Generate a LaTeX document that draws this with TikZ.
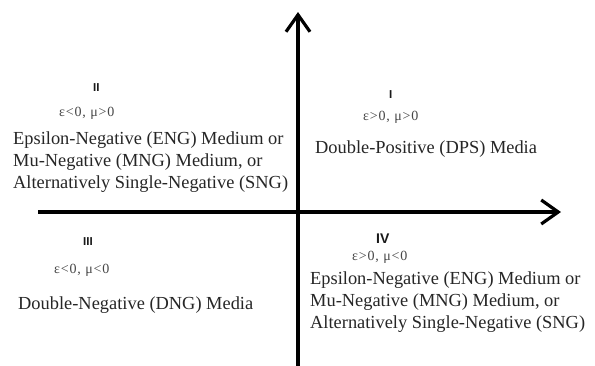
\documentclass[tikz,border=0pt]{standalone}
\usepackage{fontspec}
\setmainfont{Liberation Serif}
\newfontfamily\numfont{Liberation Sans}
\newfontfamily\condfont[LetterSpace=6]{Liberation Serif}
\usetikzlibrary{arrows.meta}
\tikzset{
  axis/.style={line width=3.2pt, -{Straight Barb[length=17pt,width=24pt,line width=3.2pt]}},
  body/.style={anchor=base west, inner sep=0pt, align=left, text=black!85,
    font=\fontsize{18.4}{21.7}\selectfont},
  cond/.style={anchor=base west, inner sep=0pt, text=black!72,
    font=\condfont\fontsize{14}{16}\selectfont},
  quad/.style={anchor=base west, inner sep=0pt, text=black!90,
    font=\numfont\bfseries\fontsize{11.5}{13}\selectfont}
}
\begin{document}
\begin{tikzpicture}[x=1pt,y=-1pt]
\fill[white] (0,0) rectangle (595,365);
\useasboundingbox (0,0) rectangle (595,365);
% axes
\coordinate (ybot) at (298,366);
\coordinate (ytop) at (298,12);
\coordinate (xleft) at (38,212);
\coordinate (xright) at (561,212);
\draw[axis] (ybot) -- (ytop);
\draw[axis] (xleft) -- (xright);
% quadrant II
\node[quad] (q2) at (93,91) {II};
\node[cond] (c2) at (59,116) {ε<0, μ>0};
\node[body] (t2) at (13,188) {Epsilon-Negative (ENG) Medium or\\Mu-Negative (MNG) Medium, or\\Alternatively Single-Negative (SNG)};
% quadrant I
\node[quad] (q1) at (389,98) {I};
\node[cond] (c1) at (363,120) {ε>0, μ>0};
\node[body] (t1) at (315,153) {Double-Positive (DPS) Media};
% quadrant III
\node[quad] (q3) at (83,245) {III};
\node[cond] (c3) at (54,273) {ε<0, μ<0};
\node[body] (t3) at (18,309) {Double-Negative (DNG) Media};
% quadrant IV
\node[quad, font=\numfont\bfseries\fontsize{14}{16}\selectfont] (q4) at (376,243) {IV};
\node[cond] (c4) at (352,260) {ε>0, μ<0};
\node[body] (t4) at (310,328) {Epsilon-Negative (ENG) Medium or\\Mu-Negative (MNG) Medium, or\\Alternatively Single-Negative (SNG)};
\end{tikzpicture}
\end{document}
